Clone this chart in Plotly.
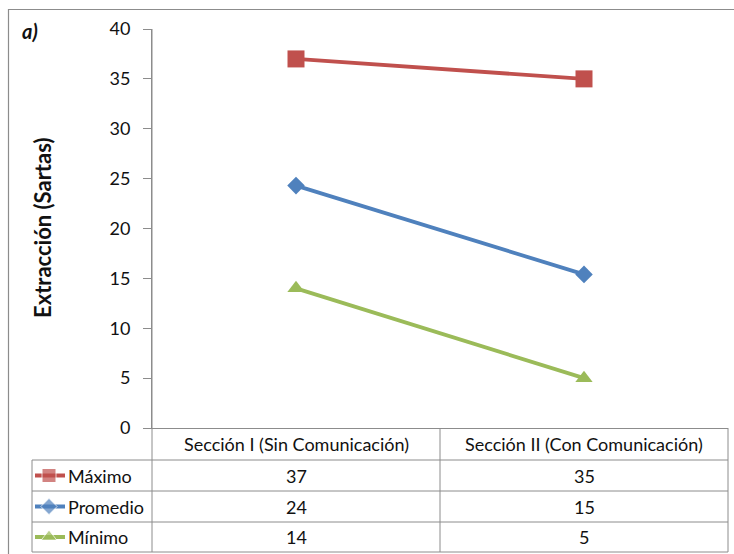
import plotly.graph_objects as go

# Data
categories = ["Sección I (Sin Comunicación)", "Sección II (Con Comunicación)"]
series_names = ["Máximo", "Promedio", "Mínimo"]
maximo = [37, 35]
promedio = [24.3, 15.4]
minimo = [14, 5]
y_ticks = [0, 5, 10, 15, 20, 25, 30, 35, 40]

series_values = [maximo, promedio, minimo]
colors = ["#C0504D", "#4F81BD", "#9BBB59"]
symbols = ["square", "diamond", "triangle-up"]
marker_sizes = [17, 13.5, 15]
key_sizes = [14, 12.5, 14]

W, H = 734, 554
# plot area in pixels
PL, PR, PT, PB = 152, 728, 29, 428
# table rows (pixel y of horizontal rules)
row_rules = [460, 491, 522, 552]
TL = 32  # left edge of label column
MID = (PL + PR) / 2

FONT = "Lato"
GRID = "#8C8C8C"
TXT = "#111111"
FS = 18

fig = go.Figure()

for name, vals, c, s, ms in zip(series_names, series_values, colors, symbols, marker_sizes):
    fig.add_trace(go.Scatter(
        x=categories, y=vals, name=name, mode="lines+markers",
        line=dict(color=c, width=3.8),
        marker=dict(symbol=s, size=ms, color=c),
        xaxis="x", yaxis="y", showlegend=False, cliponaxis=False,
    ))

# legend keys inside the data table
for i, (name, c, s, ks) in enumerate(zip(series_names, colors, symbols, key_sizes)):
    yc = (row_rules[i] + row_rules[i + 1]) / 2
    fig.add_trace(go.Scatter(
        x=[35, 49, 65], y=[yc, yc, yc], mode="lines+markers",
        line=dict(color=c, width=4),
        marker=dict(symbol=s, size=[0, ks, 0], color=c),
        xaxis="x2", yaxis="y2", showlegend=False, hoverinfo="skip",
    ))

shapes = []
def line(x0, y0, x1, y1, color=GRID, w=1):
    shapes.append(dict(type="line", xref="x2", yref="y2", x0=x0, y0=y0, x1=x1, y1=y1,
                       line=dict(color=color, width=w), layer="above"))

# outer chart border
shapes.append(dict(type="rect", xref="x2", yref="y2", x0=8.5, y0=9.5, x1=W + 5, y1=H + 5,
                   line=dict(color="#8C8C8C", width=1.2), layer="below"))
# table grid
for yr in row_rules:
    line(TL, yr, PR, yr)
line(PL, PT, PL, row_rules[-1])
line(MID, PB, MID, row_rules[-1])
line(PR, PB, PR, row_rules[-1])
line(TL, row_rules[0], TL, row_rules[-1])

annotations = []
# column headers
for cat in categories:
    annotations.append(dict(x=cat, y=(PB + row_rules[0]) / 2, xref="x", yref="y2",
                            text=cat, showarrow=False, font=dict(family=FONT, size=FS, color=TXT)))
# row labels and values
for i, (name, vals) in enumerate(zip(series_names, series_values)):
    yc = (row_rules[i] + row_rules[i + 1]) / 2
    annotations.append(dict(x=66, y=yc, xref="x2", yref="y2", text=name, xanchor="left",
                            showarrow=False, font=dict(family=FONT, size=FS, color=TXT)))
    for cat, v in zip(categories, vals):
        annotations.append(dict(x=cat, y=yc, xref="x", yref="y2", text=f"{v:.0f}",
                                showarrow=False, font=dict(family=FONT, size=FS, color=TXT)))
# panel label
annotations.append(dict(x=20, y=31, xref="x2", yref="y2", text="<b><i>a)</i></b>", xanchor="left",
                        showarrow=False, font=dict(family=FONT, size=20, color=TXT)))
# y axis title
annotations.append(dict(x=42, y=228, xref="x2", yref="y2", text="<b>Extracción (Sartas)</b>",
                        textangle=-90, showarrow=False, font=dict(family=FONT, size=22, color=TXT)))

fig.update_layout(
    width=W, height=H, margin=dict(l=0, r=0, t=0, b=0, pad=0, autoexpand=False),
    autosize=False,
    paper_bgcolor="white", plot_bgcolor="rgba(0,0,0,0)",
    xaxis=dict(type="category", categoryorder="array", categoryarray=categories,
               range=[-0.5, 1.5], domain=[PL / W, PR / W], anchor="y", automargin=False,
               showticklabels=False, ticks="", showgrid=False, zeroline=False,
               showline=True, linecolor=GRID, linewidth=1),
    yaxis=dict(range=[0, 40], tickvals=y_ticks, domain=[1 - PB / H, 1 - PT / H], anchor="x",
               automargin=False,
               ticks="outside", ticklen=8, tickcolor=GRID, showgrid=False, zeroline=False,
               showline=True, linecolor=GRID, linewidth=1, ticklabelstandoff=9,
               tickfont=dict(family=FONT, size=FS, color=TXT)),
    xaxis2=dict(range=[0, W], domain=[0, 1], anchor="y2", visible=False, fixedrange=True,
                automargin=False),
    yaxis2=dict(range=[H, 0], domain=[0, 1], anchor="x2", visible=False, fixedrange=True,
                automargin=False),
    shapes=shapes, annotations=annotations,
)

fig.write_html("out.html", config={"responsive": False, "displayModeBar": False})
